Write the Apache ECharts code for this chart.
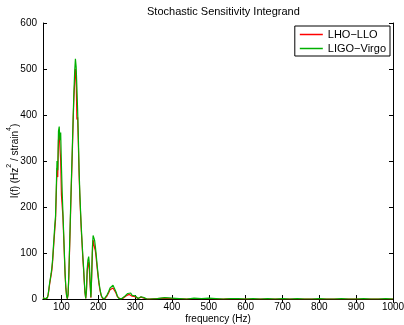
<!DOCTYPE html>
<html><head><meta charset="utf-8">
<script src="https://cdn.jsdelivr.net/npm/echarts@6/dist/echarts.min.js"></script>
<style>html,body{margin:0;padding:0;background:#fff}#c{width:404px;height:325px}</style>
</head><body><div id="c"></div>
<script>
var titleText = "Stochastic Sensitivity Integrand";
var xName = "frequency (Hz)";
var yName = "{a|I(f) (Hz}{s|2}{a| / strain}{s|4}{a|)}";
var seriesNames = ["LHO\u2212LLO", "LIGO\u2212Virgo"];
var xTicks = [100,200,300,400,500,600,700,800,900,1000];
var yTicks = [0,100,200,300,400,500,600];
var freq = [50,52,54,56,58,60,62,64,66,68,70,72,74,76,78,80,82,84,86,88,90,92,94,96,98,100,
 102,104,106,108,110,112,114,116,118,120,122,124,126,128,130,132,134,136,138,140,142,144,146,148,150,
 152,154,156,158,160,162,164,166,168,170,172,174,176,178,180,182,184,186,188,190,192,194,196,198,200,
 202,204,206,208,210,212,214,216,218,220,
 224,228,232,236,240,244,248,252,256,260,264,268,272,276,280,284,288,292,296,300,304,308,312,316,320,324,328,332,336,340,
 360,380,400,420,440,460,480,500,520,540,560,580,600,620,640,660,680,700,720,740,760,780,800,820,840,860,880,900,920,940,960,980,1000];
var lhoLlo = [3,1,2,0,1,0,3,9,20,32,42,52,62,80,104,128,150,172,225,285,265,345,360,330,300,226,
 225,180,138,95,52,23,7,1,9,45,102,160,220,275,330,390,440,440,500,480,390,395,335,270,222,
 183,148,120,90,66,37,13,1,17,60,75,80,60,30,3,45,100,128,126,111,105,92,75,60,45,
 32,22,14,7,3,1,0,0,1,2,
 7,13,20,22,24,22,13,5,1,0,1,2,4,7,9,10,9,6,4,5,3,1,1,4,5,2,1,0,1,0,
 1,2,1,1,0,1,1,1,0,0,1,0,0,0,0,0,0,0,0,0,0,0,0,0,0,0,0,0,0,0,0,0,0];
var ligoVirgo = [3,1,2,0,1,0,3,10,22,35,45,55,68,85,110,135,160,180,240,300,280,365,375,345,362,290,
 235,190,145,100,55,25,8,1,10,50,110,170,230,285,340,400,452,495,522,505,460,410,350,280,230,
 190,155,125,95,70,40,15,1,20,65,85,92,75,35,4,50,110,138,138,128,115,100,82,65,50,
 36,25,16,9,4,1,0,0,1,3,
 9,16,24,28,30,27,16,6,1,0,1,3,6,9,12,15,13,8,5,7,4,1,2,5,6,3,1,0,1,0,
 1,3,2,1,0,2,1,2,1,0,1,1,0,1,0,1,0,1,0,1,0,0,1,0,0,1,0,0,1,0,0,1,0];

function pairs(v){ return freq.map(function(f,i){ return [f, v[i]]; }); }
var FONT = "Liberation Sans";
var chart = echarts.init(document.getElementById('c'), null, {renderer:'canvas'});
var axisLine = {show:true, lineStyle:{color:'#000', width:1}};
chart.setOption({
  animation:false,
  backgroundColor:'#fff',
  title:{text:titleText, left:142, top:1,
    textStyle:{fontFamily:FONT, fontSize:11, fontWeight:'normal', color:'#000'}},
  grid:{left:43, right:11, top:23, bottom:26, containLabel:false, outerBoundsMode:'none'},
  legend:{orient:'vertical', right:14, top:26, padding:[2,4,1,5], itemGap:1,
    icon:'rect', itemWidth:23, itemHeight:1.5, borderColor:'#000', borderWidth:1, backgroundColor:'#fff',
    textStyle:{fontFamily:FONT, fontSize:11, color:'#000', lineHeight:13}, data:seriesNames},
  xAxis:[{type:'value', min:50, max:1000, name:xName, nameLocation:'middle', nameGap:15, nameMoveOverlap:false,
    nameTextStyle:{fontFamily:FONT, fontSize:10, color:'#000'},
    axisLine:axisLine, splitLine:{show:false},
    axisTick:{show:true, inside:true, length:4, customValues:xTicks, lineStyle:{color:'#000'}},
    axisLabel:{customValues:xTicks, fontFamily:FONT, fontSize:10, color:'#000', margin:3,
      formatter:function(v){return String(v);}}},
   {type:'value', position:'top', min:50, max:1000, axisLine:axisLine, splitLine:{show:false},
    axisTick:{show:true, inside:true, length:4, customValues:xTicks, lineStyle:{color:'#000'}},
    axisLabel:{show:false}}],
  yAxis:[{type:'value', min:0, max:600, interval:100, name:yName, nameLocation:'middle', nameGap:23, nameMoveOverlap:false,
    nameTextStyle:{fontFamily:FONT, fontSize:10, color:'#000',
      rich:{a:{fontFamily:FONT, fontSize:10, color:'#000', lineHeight:14, verticalAlign:'bottom'},
            s:{fontFamily:FONT, fontSize:7, color:'#000', lineHeight:14, verticalAlign:'top'}}},
    axisLine:axisLine, splitLine:{show:false},
    axisTick:{show:true, inside:true, length:4, lineStyle:{color:'#000'}},
    axisLabel:{fontFamily:FONT, fontSize:10, color:'#000', margin:6}},
   {type:'value', position:'right', min:0, max:600, interval:100, axisLine:axisLine, splitLine:{show:false},
    axisTick:{show:true, inside:true, length:4, lineStyle:{color:'#000'}},
    axisLabel:{show:false}}],
  series:[
    {name:seriesNames[0], type:'line', data:pairs(lhoLlo), symbol:'none', showSymbol:false,
     lineStyle:{color:'#ff0000', width:1.2}, itemStyle:{color:'#ff0000'}, z:2},
    {name:seriesNames[1], type:'line', data:pairs(ligoVirgo), symbol:'none', showSymbol:false,
     lineStyle:{color:'#00b000', width:1.2}, itemStyle:{color:'#00b000'}, z:3}
  ]
});
</script></body></html>
